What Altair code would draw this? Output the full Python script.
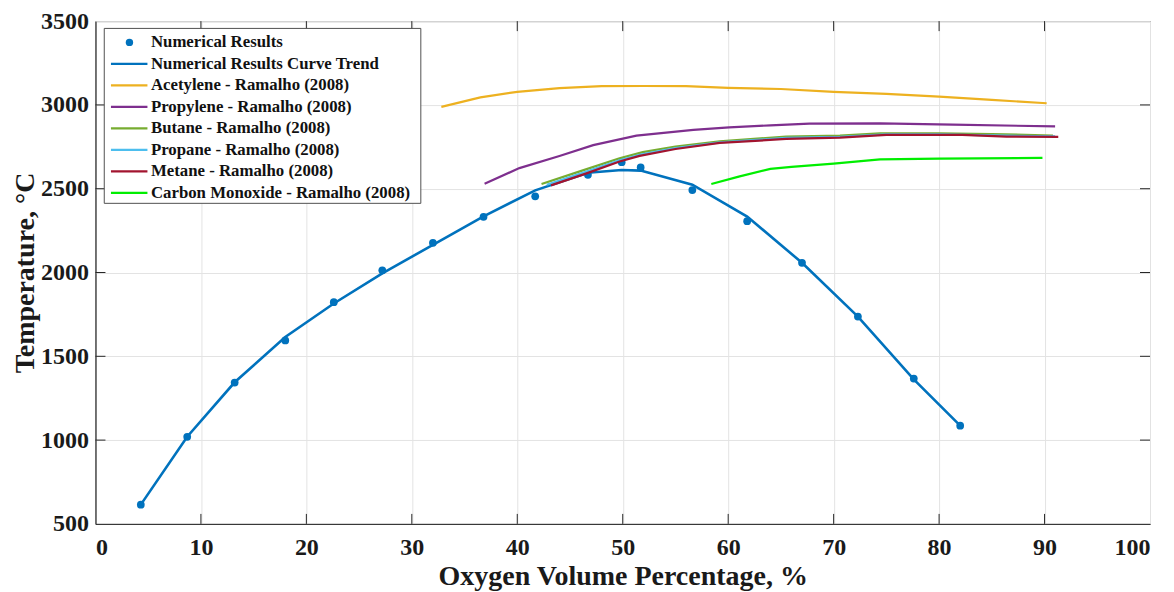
import altair as alt
import pandas as pd

# ---------------- data ----------------
num_x = [4.3, 8.7, 13.2, 18.0, 22.6, 27.2, 32.0, 36.8, 41.7, 46.7, 49.9, 51.7, 56.6, 61.8, 67.0, 72.3, 77.6, 82.0]
num_T = [615, 1020, 1343, 1595, 1823, 2013, 2177, 2332, 2455, 2583, 2658, 2627, 2492, 2306, 2058, 1737, 1367, 1086]

trend_x = [4.3, 8.7, 13.2, 18.0, 22.6, 27.2, 32.0, 36.8, 41.7, 46.7, 49.9, 51.7, 56.6, 61.8, 67.0, 72.3, 77.6, 82.0]
trend_T = [615, 1020, 1345, 1615, 1815, 1995, 2165, 2335, 2490, 2595, 2612, 2608, 2524, 2334, 2058, 1737, 1362, 1086]

acet_x = [32.8, 36.5, 40.0, 44.0, 48.0, 52.0, 56.0, 60.0, 65.0, 70.0, 75.0, 80.0, 85.0, 90.2]
acet_T = [2988, 3045, 3078, 3100, 3112, 3113, 3112, 3102, 3095, 3078, 3066, 3050, 3030, 3010]

propy_x = [36.9, 40.2, 44.0, 47.2, 51.3, 56.7, 60.1, 64.0, 67.7, 74.4, 81.3, 91.0]
propy_T = [2530, 2623, 2695, 2760, 2817, 2851, 2866, 2878, 2888, 2890, 2882, 2872]

but_x = [42.3, 46.0, 49.7, 51.9, 55.0, 59.2, 65.5, 70.6, 74.4, 80.0, 85.0, 90.8]
but_T = [2528, 2605, 2682, 2718, 2752, 2782, 2811, 2817, 2830, 2830, 2826, 2817]

propa_x = [42.8, 46.0, 49.7, 51.8, 55.0, 59.2, 65.5, 70.6, 75.0, 80.0, 85.0, 91.0]
propa_T = [2524, 2590, 2670, 2705, 2742, 2777, 2803, 2810, 2824, 2825, 2818, 2812]

met_x = [43.2, 46.5, 49.7, 51.6, 55.0, 59.2, 65.5, 70.6, 75.0, 82.2, 86.4, 91.3]
met_T = [2520, 2590, 2662, 2696, 2737, 2773, 2797, 2805, 2821, 2821, 2811, 2809]

co_x = [58.4, 61.0, 64.0, 66.0, 70.0, 74.4, 80.0, 89.8]
co_T = [2528, 2572, 2618, 2630, 2650, 2675, 2680, 2684]

series_names = [
    "Numerical Results",
    "Numerical Results Curve Trend",
    "Acetylene - Ramalho (2008)",
    "Propylene - Ramalho (2008)",
    "Butane - Ramalho (2008)",
    "Propane - Ramalho (2008)",
    "Metane - Ramalho (2008)",
    "Carbon Monoxide - Ramalho (2008)",
]
series_colors = ["#0072BD", "#0072BD", "#EDB120", "#7E2F8E", "#77AC30", "#4DBEEE", "#A2142F", "#00EE00"]

x_ticks = [0, 10, 20, 30, 40, 50, 60, 70, 80, 90, 100]
y_ticks = [500, 1000, 1500, 2000, 2500, 3000, 3500]

# ---------------- chart ----------------
FONT = "Liberation Serif"
W, H = 1055, 503

xs = alt.Scale(domain=[0, 100], nice=False, zero=False)
ys = alt.Scale(domain=[500, 3500], nice=False, zero=False)
cs = alt.Scale(domain=series_names, range=series_colors)

xax = alt.Axis(values=x_ticks, format="d", title="Oxygen Volume Percentage, %", grid=True, ticks=False,
               labelPadding=12, titlePadding=3)
yax = alt.Axis(values=y_ticks, format="d", title="Temperature, °C", grid=True, ticks=False,
               labelPadding=7, titlePadding=1)


def X(field="x"):
    return alt.X(f"{field}:Q", scale=xs, axis=xax)


def Y(field="T"):
    return alt.Y(f"{field}:Q", scale=ys, axis=yax)


col = alt.Color("s:N", scale=cs, legend=None)

layers = []

ramalho = [
    (series_names[2], acet_x, acet_T),
    (series_names[3], propy_x, propy_T),
    (series_names[4], but_x, but_T),
    (series_names[5], propa_x, propa_T),
    (series_names[6], met_x, met_T),
    (series_names[7], co_x, co_T),
]

trend_df = pd.DataFrame({"x": trend_x, "T": trend_T, "s": series_names[1]})
layers.append(alt.Chart(trend_df).mark_line(strokeWidth=2.6).encode(x=X(), y=Y(), color=col))

num_df = pd.DataFrame({"x": num_x, "T": num_T, "s": series_names[0]})
layers.append(alt.Chart(num_df).mark_point(filled=True, size=60, opacity=1).encode(x=X(), y=Y(), color=col))

for name, xv, tv in ramalho:
    df = pd.DataFrame({"x": xv, "T": tv, "s": name})
    layers.append(alt.Chart(df).mark_line(strokeWidth=2.2).encode(x=X(), y=Y(), color=col))

# inward ticks (MATLAB style) on all four sides
xt_df = pd.DataFrame({"x": x_ticks[1:-1]})
yt_df = pd.DataFrame({"T": y_ticks[1:-1]})
tick_col = "#262626"
layers.append(alt.Chart(xt_df).mark_rule(color=tick_col, strokeWidth=1).encode(
    x=X(), y=alt.value(H), y2=alt.value(H - 10)))
layers.append(alt.Chart(xt_df).mark_rule(color=tick_col, strokeWidth=1).encode(
    x=X(), y=alt.value(0), y2=alt.value(10)))
layers.append(alt.Chart(yt_df).mark_rule(color=tick_col, strokeWidth=1).encode(
    y=Y(), x=alt.value(0), x2=alt.value(10)))
layers.append(alt.Chart(yt_df).mark_rule(color=tick_col, strokeWidth=1).encode(
    y=Y(), x=alt.value(W - 10), x2=alt.value(W)))

# legend (inside plot, top-left)
leg_df = pd.DataFrame({"s": series_names, "row": list(range(len(series_names)))})
leg_base = alt.Chart(leg_df).transform_calculate(ly="21.3 + datum.row * 21.5")
LY = alt.Y("ly:Q", scale=None, axis=None)

box_df = pd.DataFrame({"a": [0]})
layers.append(alt.Chart(box_df).mark_rect(fill="white", stroke="#505050", strokeWidth=1).encode(
    x=alt.value(8.8), x2=alt.value(325.5), y=alt.value(7.3), y2=alt.value(182.3)))
layers.append(leg_base.transform_filter("datum.row > 0").mark_rule(strokeWidth=2.2).encode(
    x=alt.value(15.5), x2=alt.value(52), y=LY, color=col))
layers.append(leg_base.transform_filter("datum.row == 0").mark_point(filled=True, size=55, opacity=1).encode(
    x=alt.value(34), y=LY, color=col))
layers.append(leg_base.mark_text(align="left", baseline="middle", font=FONT, fontWeight="bold",
                                 fontSize=16.8, color="#111111").encode(
    x=alt.value(55.5), y=LY, text="s:N"))

chart = alt.layer(*layers).properties(
    width=W,
    height=H,
    autosize=alt.AutoSizeParams(type="none"),
    padding={"left": 87.5, "top": 13, "right": 16, "bottom": 68},
    background="white",
).configure_view(
    stroke="#404040", strokeWidth=1
).configure_axis(
    domainColor="#262626",
    domainWidth=1,
    gridColor="#e3e3e3",
    gridWidth=1,
    labelFont=FONT,
    labelFontWeight="bold",
    labelFontSize=24,
    labelColor="#1a1a1a",
    titleFont=FONT,
    titleFontWeight="bold",
    titleFontSize=28,
    titleColor="#1a1a1a",
)

chart.save("out.html", embed_options={"renderer": "svg", "actions": False})
